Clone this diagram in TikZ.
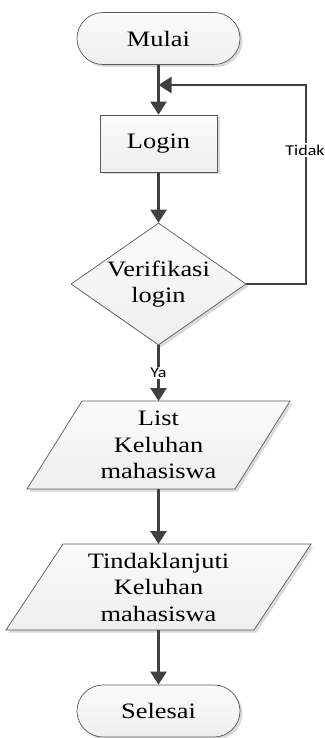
\documentclass[tikz,border=0pt]{standalone}
\usepackage{fontspec}
\setmainfont{Liberation Serif}[FakeStretch=1.2]
\newfontfamily\lblfont{Carlito}[FakeStretch=1.2]
\usetikzlibrary{arrows.meta,shapes.geometric,shadows}
\pgfdeclarelayer{background}
\pgfsetlayers{background,main}
\definecolor{linecol}{HTML}{404040}
\definecolor{edgecol}{HTML}{5A5A5A}
\begin{document}
\begin{tikzpicture}[x=1pt,y=-1pt,
  shapefill/.style={draw=edgecol, line width=0.7pt, top color=gray!3, bottom color=gray!13,
    drop shadow={shadow xshift=2.5pt, shadow yshift=-2.5pt, fill=gray!30, opacity=1}},
  txt/.style={font=\fontsize{22}{26.5}\selectfont, align=center, text=black},
  term/.style={shapefill, txt, rectangle, rounded corners=26pt, minimum width=163pt, minimum height=52pt, inner sep=0pt},
  proc/.style={shapefill, txt, rectangle, minimum width=117pt, minimum height=57pt, inner sep=0pt},
  dia/.style={shapefill, diamond, minimum width=175pt, minimum height=122pt, inner sep=0pt},
  iobox/.style={txt, rectangle, inner sep=0pt, outer sep=0pt},
  arr/.style={draw=linecol, line width=2.4pt, -{Triangle[length=13pt,width=16pt]}},
  lbl/.style={font=\lblfont\fontsize{15}{17}\selectfont, fill=white, inner sep=1.5pt, text=black}
]
\useasboundingbox (0,0) rectangle (324,738);

% nodes
\node[term] (mulai) at (158.5,38.5) {Mulai};
\node[proc] (login) at (158.5,143.5) {Login};
\node[dia] (ver) at (158.5,284) {};
\node[txt] (vertext) at (ver) {Verifikasi\\login};
\node[iobox, minimum width=208pt, minimum height=88pt] (list) at (158.5,445) {List\\Keluhan\\mahasiswa};
\node[iobox, minimum width=248pt, minimum height=86pt] (tindak) at (158.5,587) {Tindaklanjuti\\Keluhan\\mahasiswa};
\node[term] (selesai) at (158.5,711) {Selesai};

\begin{pgfonlayer}{background}
  \path[shapefill] ([xshift=27.5pt]list.north west) -- ([xshift=27.5pt]list.north east)
     -- ([xshift=-27.5pt]list.south east) -- ([xshift=-27.5pt]list.south west) -- cycle;
  \path[shapefill] ([xshift=28.5pt]tindak.north west) -- ([xshift=28.5pt]tindak.north east)
     -- ([xshift=-28.5pt]tindak.south east) -- ([xshift=-28.5pt]tindak.south west) -- cycle;
\end{pgfonlayer}

% loop-back coordinates
\coordinate (fbR) at (306,85);
\coordinate (fbL) at (158.5,85);

% connectors
\draw[arr] (mulai.south) -- (login.north);
\draw[arr] (login.south) -- (ver.north);
\draw[arr] (ver.east) -| (fbR) -- (fbL);
\draw[arr] (ver.south) -- (list.north);
\draw[arr] (list.south) -- (tindak.north);
\draw[arr] (tindak.south) -- (selesai.north);

% labels
\node[lbl] (tidak) at (305,150) {Tidak};
\node[lbl] (ya) at (158.5,373) {Ya};
\end{tikzpicture}
\end{document}
